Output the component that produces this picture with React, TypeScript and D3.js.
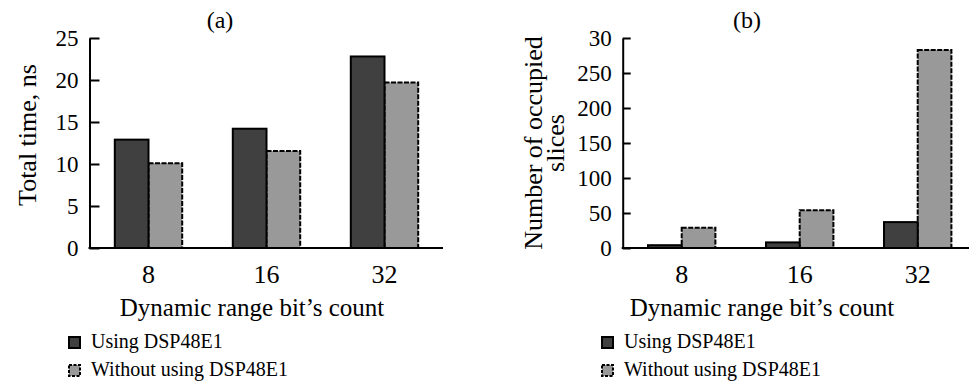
import React, { useEffect, useRef } from 'react';
import * as d3 from 'd3';

// bit counts on the x axis
const categories = ['8', '16', '32'];
const seriesNames = ['Using DSP48E1', 'Without using DSP48E1'];

// panel (a): total time, ns
const timeWith = [12.9, 14.2, 22.8];
const timeWithout = [10.1, 11.55, 19.7];
const timeTicks = [0, 5, 10, 15, 20, 25];
const timeTickLabels = ['0', '5', '10', '15', '20', '25'];

// panel (b): number of occupied slices
const slicesWith = [4, 8, 37];
const slicesWithout = [29, 54, 283];
const slicesTicks = [0, 50, 100, 150, 200, 250, 300];
const slicesTickLabels = ['0', '50', '100', '150', '200', '250', '30'];

const FONT = "'Liberation Serif', 'Times New Roman', Times, 'DejaVu Serif', serif";
const DARK = '#404040';
const LIGHT = '#999999';

interface PanelProps {
  left: number;
  axisEnd: number;
  title: string;
  titleX: number;
  yLabel: string[];
  yLabelX: number;
  xLabelX: number;
  valuesWith: number[];
  valuesWithout: number[];
  yMax: number;
  ticks: number[];
  tickLabels: string[];
  tickLen: number;
  legendX: number;
}

const Panel: React.FC<PanelProps> = (p) => {
  const ref = useRef<SVGGElement | null>(null);

  useEffect(() => {
    const g = d3.select(ref.current);
    g.selectAll('*').remove();

    const top = 38, bottom = 248;

    const x = d3.scaleBand<string>()
      .domain(categories)
      .range([p.left, p.left + 354])
      .padding(0);

    const half = 33.7;
    const x1 = d3.scaleBand<string>()
      .domain(seriesNames)
      .range([x.bandwidth() / 2 - half, x.bandwidth() / 2 + half]);

    const y = d3.scaleLinear().domain([0, p.yMax]).range([bottom, top]);

    const rows = categories.map((c, i) => ({ c, a: p.valuesWith[i], b: p.valuesWithout[i] }));

    // light bars first so the solid edge of the dark bar sits on top
    g.append('g').selectAll('rect')
      .data(rows)
      .enter().append('rect')
      .attr('x', d => x(d.c)! + x1(seriesNames[1])!)
      .attr('y', d => y(d.b))
      .attr('width', x1.bandwidth())
      .attr('height', d => y(0) - y(d.b))
      .attr('fill', LIGHT)
      .attr('stroke', '#000')
      .attr('stroke-width', 2)
      .attr('stroke-dasharray', '5,1.5');

    g.append('g').selectAll('rect')
      .data(rows)
      .enter().append('rect')
      .attr('x', d => x(d.c)! + x1(seriesNames[0])!)
      .attr('y', d => y(d.a))
      .attr('width', x1.bandwidth())
      .attr('height', d => y(0) - y(d.a))
      .attr('fill', DARK)
      .attr('stroke', '#000')
      .attr('stroke-width', 2);

    // y axis, ticks pointing inward
    const yAxis = d3.axisRight(y)
      .tickValues(p.ticks)
      .tickSize(p.tickLen)
      .tickSizeOuter(0)
      .tickFormat((_d, i) => p.tickLabels[i]);

    const ya = g.append('g')
      .attr('transform', `translate(${p.left},0)`)
      .call(yAxis)
      .attr('font-family', FONT)
      .attr('font-size', 23);
    ya.select('.domain').attr('stroke', '#000').attr('stroke-width', 2);
    ya.selectAll('.tick line').attr('stroke', '#000').attr('stroke-width', 2);
    ya.selectAll('.tick text')
      .attr('x', -11)
      .attr('dy', '0.34em')
      .attr('text-anchor', 'end')
      .attr('fill', '#000');

    // x axis: plain line with labels below, no ticks
    g.append('line')
      .attr('x1', p.left - 1)
      .attr('x2', p.axisEnd)
      .attr('y1', bottom)
      .attr('y2', bottom)
      .attr('stroke', '#000')
      .attr('stroke-width', 2);

    g.append('g').selectAll('text')
      .data(categories)
      .enter().append('text')
      .attr('x', d => x(d)! + x.bandwidth() / 2)
      .attr('y', 283)
      .attr('text-anchor', 'middle')
      .attr('font-family', FONT)
      .attr('font-size', 26)
      .text(d => d);

    g.append('text')
      .attr('x', p.xLabelX)
      .attr('y', 316)
      .attr('text-anchor', 'middle')
      .attr('font-family', FONT)
      .attr('font-size', 25)
      .text('Dynamic range bit\u2019s count');

    g.append('text')
      .attr('x', p.titleX)
      .attr('y', 28)
      .attr('text-anchor', 'middle')
      .attr('font-family', FONT)
      .attr('font-size', 24)
      .text(p.title);

    const yl = g.append('text')
      .attr('transform', `translate(${p.yLabelX},${p.yLabel.length > 1 ? 143 : 135}) rotate(-90)`)
      .attr('text-anchor', 'middle')
      .attr('font-family', FONT)
      .attr('font-size', 26);
    p.yLabel.forEach((line, i) => {
      yl.append('tspan').attr('x', 0).attr('dy', i === 0 ? 0 : 22).text(line);
    });

    // legend
    const legend = g.append('g');
    seriesNames.forEach((name, i) => {
      const ly = 337 + i * 28;
      legend.append('rect')
        .attr('x', p.legendX)
        .attr('y', ly)
        .attr('width', 11)
        .attr('height', 11)
        .attr('fill', i === 0 ? DARK : LIGHT)
        .attr('stroke', '#000')
        .attr('stroke-width', 2)
        .attr('stroke-dasharray', i === 0 ? null : '3,1.5');
      legend.append('text')
        .attr('x', p.legendX + 22)
        .attr('y', ly + 11)
        .attr('font-family', FONT)
        .attr('font-size', 20)
        .text(name);
    });
  }, [p]);

  return <g ref={ref}></g>;
};

const App: React.FC = () => {
  return (
    <div style={{ position: 'absolute', left: 0, top: 0 }}>
      <svg width={969} height={383} style={{ display: 'block', background: '#fff' }}>
        <Panel
          left={89.5}
          axisEnd={443}
          title="(a)"
          titleX={220}
          yLabel={['Total time, ns']}
          yLabelX={36}
          xLabelX={252}
          valuesWith={timeWith}
          valuesWithout={timeWithout}
          yMax={25}
          ticks={timeTicks}
          tickLabels={timeTickLabels}
          tickLen={10}
          legendX={69}
        />
        <Panel
          left={622.7}
          axisEnd={969}
          title="(b)"
          titleX={747}
          yLabel={['Number of occupied', 'slices']}
          yLabelX={542}
          xLabelX={762}
          valuesWith={slicesWith}
          valuesWithout={slicesWithout}
          yMax={300}
          ticks={slicesTicks}
          tickLabels={slicesTickLabels}
          tickLen={8}
          legendX={602}
        />
      </svg>
    </div>
  );
};

export default App;
